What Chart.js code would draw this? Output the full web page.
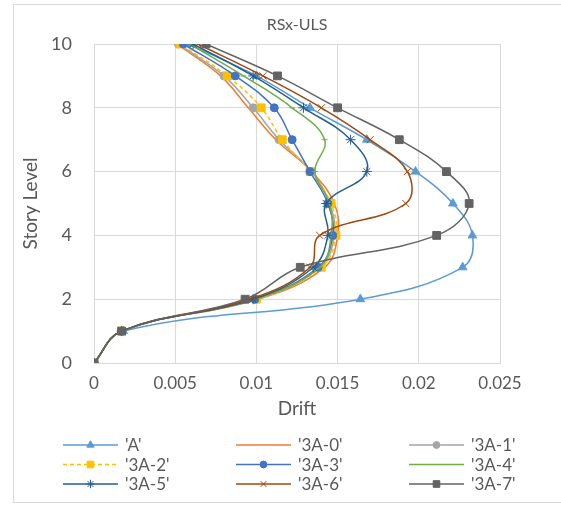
<!DOCTYPE html>
<html>
<head>
<meta charset="utf-8">
<script src="https://cdn.jsdelivr.net/npm/chart.js@4.4.1/dist/chart.umd.min.js"></script>
<style>
  html, body { margin: 0; padding: 0; background: #fff; }
  #wrap { position: relative; width: 561px; height: 506px; overflow: hidden; }
  #frame { position: absolute; left: 13px; top: 4px; width: 560px; height: 499px; border: 1px solid #d9d9d9; box-sizing: border-box; }
  canvas { position: absolute; left: 0; top: 0; }
</style>
</head>
<body>
<div id="wrap">
  <div id="frame"></div>
  <canvas id="chart" width="561" height="506"></canvas>
</div>
<script>
// story levels (y) shared by every series
const levels = [0, 1, 2, 3, 4, 5, 6, 7, 8, 9, 10];

// drift per level
const driftA   = [0, 0.0018, 0.0164, 0.0227, 0.0233, 0.0221, 0.0198, 0.0168, 0.0133, 0.0100, 0.0058];
const drift3A0 = [0, 0.0017, 0.0101, 0.0142, 0.0150, 0.0148, 0.0134, 0.0112, 0.0095, 0.0078, 0.0051];
const drift3A1 = [0, 0.0017, 0.0100, 0.0139, 0.0148, 0.0145, 0.0134, 0.0114, 0.0098, 0.0080, 0.0052];
const drift3A2 = [0, 0.0017, 0.0100, 0.0140, 0.0149, 0.0146, 0.0133, 0.0116, 0.0103, 0.0082, 0.0053];
const drift3A3 = [0, 0.0017, 0.0099, 0.0138, 0.0147, 0.0144, 0.0133, 0.0122, 0.0111, 0.0087, 0.0055];
const drift3A4 = [0, 0.0017, 0.0099, 0.0139, 0.0146, 0.0145, 0.0136, 0.0142, 0.0122, 0.0092, 0.0059];
const drift3A5 = [0, 0.0017, 0.0098, 0.0135, 0.0144, 0.0143, 0.0168, 0.0158, 0.0129, 0.0098, 0.0061];
const drift3A6 = [0, 0.0017, 0.0096, 0.0133, 0.0139, 0.0192, 0.0193, 0.0170, 0.0140, 0.0104, 0.0064];
const drift3A7 = [0, 0.0017, 0.0093, 0.0127, 0.0211, 0.0231, 0.0217, 0.0188, 0.0150, 0.0113, 0.0069];

const seriesNames = ["'A'", "'3A-0'", "'3A-1'", "'3A-2'", "'3A-3'", "'3A-4'", "'3A-5'", "'3A-6'", "'3A-7'"];
const seriesDrifts = [driftA, drift3A0, drift3A1, drift3A2, drift3A3, drift3A4, drift3A5, drift3A6, drift3A7];

const xTickLabels = ['0', '0.005', '0.01', '0.015', '0.02', '0.025'];
const yTickLabels = ['0', '2', '4', '6', '8', '10'];

const colors  = ['#5B9BD5', '#ED7D31', '#A5A5A5', '#FFC000', '#4472C4', '#70AD47', '#255E91', '#9E480E', '#636363'];
const markers = ['triangle', false, 'circle', 'rect', 'circle', 'line', 'star', 'crossRot', 'rect'];
const sizes   = [5, 0, 4, 5.5, 4, 3, 5, 5, 5.5];

const FONT = 'Lato';
const TEXT = '#595959';

const datasets = seriesNames.map((name, i) => ({
    label: name,
    data: seriesDrifts[i].map((d, k) => ({ x: d, y: levels[k] })),
    showLine: true,
    borderColor: colors[i],
    backgroundColor: colors[i],
    pointBackgroundColor: colors[i],
    pointBorderColor: colors[i],
    borderWidth: 1.5,
    borderDash: i === 3 ? [4, 3] : [],
    pointStyle: markers[i] || 'circle',
    pointRadius: sizes[i],
    pointBorderWidth: 1,
    tension: 0.4,
    order: seriesNames.length - i
}));

// title over the plot centre, legend in three columns under it
const chartText = {
    id: 'chartText',
    afterDraw(chart) {
        const ctx = chart.ctx;
        const area = chart.chartArea;
        ctx.save();
        ctx.fillStyle = TEXT;
        ctx.font = '16px ' + FONT;
        ctx.textAlign = 'center';
        ctx.textBaseline = 'middle';
        ctx.fillText('RSx-ULS', (area.left + area.right) / 2, 25);
        ctx.restore();

        chart.data.datasets.forEach((ds, i) => {
            const col = i % 3, row = Math.floor(i / 3);
            const x0 = 63 + col * 173;
            const y = 445 + row * 19.5;
            ctx.save();
            ctx.strokeStyle = ds.borderColor;
            ctx.lineWidth = ds.borderWidth;
            ctx.setLineDash(ds.borderDash);
            ctx.beginPath();
            ctx.moveTo(x0, y);
            ctx.lineTo(x0 + 55, y);
            ctx.stroke();
            ctx.setLineDash([]);
            if (ds.pointRadius > 0 && Chart.helpers && Chart.helpers.drawPoint) {
                ctx.fillStyle = ds.pointBackgroundColor;
                ctx.strokeStyle = ds.pointBorderColor;
                ctx.lineWidth = 1;
                Chart.helpers.drawPoint(ctx, { pointStyle: ds.pointStyle, radius: ds.pointRadius * 0.85, borderWidth: 1, rotation: 0 }, x0 + 27.5, y);
            }
            ctx.fillStyle = TEXT;
            ctx.font = '17px ' + FONT;
            ctx.textBaseline = 'middle';
            ctx.textAlign = 'left';
            ctx.fillText(ds.label, x0 + 62, y + 1);
            ctx.restore();
        });
    }
};

new Chart(document.getElementById('chart').getContext('2d'), {
    type: 'scatter',
    data: { datasets: datasets },
    plugins: [chartText],
    options: {
        responsive: false,
        animation: false,
        layout: { padding: { left: 13, top: 44, right: 61, bottom: 81 } },
        plugins: {
            legend: { display: false },
            tooltip: { enabled: false },
            title: { display: false }
        },
        scales: {
            x: {
                type: 'linear',
                min: 0,
                max: 0.025,
                afterBuildTicks: (scale) => { scale.ticks = xTickLabels.map(Number).map(v => ({ value: v })); },
                ticks: {
                    callback: (v, idx) => xTickLabels[idx],
                    color: TEXT,
                    font: { family: FONT, size: 17 },
                    padding: 10,
                    maxRotation: 0
                },
                grid: { color: '#d9d9d9', drawTicks: false },
                border: { color: '#d9d9d9' },
                title: {
                    display: true,
                    text: 'Drift',
                    color: TEXT,
                    font: { family: FONT, size: 19 },
                    padding: { top: 4, bottom: 5 }
                },
                afterFit: (scale) => { scale.height = 62; }
            },
            y: {
                type: 'linear',
                min: 0,
                max: 10,
                afterBuildTicks: (scale) => { scale.ticks = yTickLabels.map(Number).map(v => ({ value: v })); },
                ticks: {
                    callback: (v, idx) => yTickLabels[idx],
                    color: TEXT,
                    font: { family: FONT, size: 18 },
                    padding: 22
                },
                grid: { color: '#d9d9d9', drawTicks: false },
                border: { color: '#d9d9d9' },
                title: {
                    display: true,
                    text: 'Story Level',
                    color: TEXT,
                    font: { family: FONT, size: 19 },
                    padding: { top: 6, bottom: 0 }
                },
                afterFit: (scale) => { scale.width = 81; }
            }
        }
    }
});
</script>
</body>
</html>
